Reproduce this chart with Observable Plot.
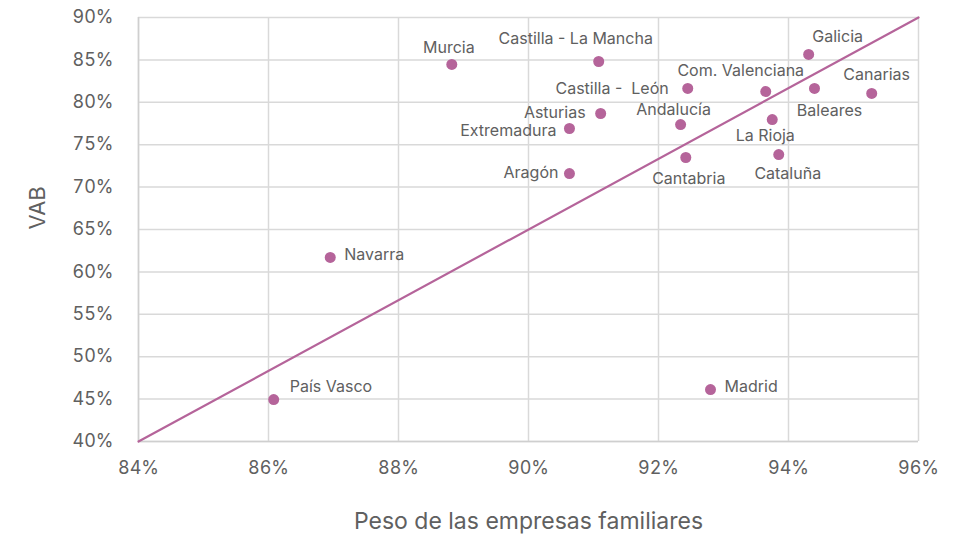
<!DOCTYPE html>
<html>
<head>
<meta charset="utf-8">
<script src="https://cdn.jsdelivr.net/npm/d3@7"></script>
<script src="https://cdn.jsdelivr.net/npm/@observablehq/plot@0.6"></script>
<style>
  html, body { margin: 0; padding: 0; background: #fff; }
  svg { font-family: Inter, "Open Sans", sans-serif; }
</style>
</head>
<body>
<div id="chart"></div>
<script>
// Data (percent values)
const regions = ["Murcia","Castilla - La Mancha","Galicia","Castilla -  León","Com. Valenciana","Canarias","Baleares","Asturias","La Rioja","Andalucía","Extremadura","Cataluña","Cantabria","Aragón","Navarra","País Vasco","Madrid"];
const pesoFamiliar = [88.82, 91.08, 94.31, 92.45, 93.65, 95.28, 94.40, 91.11, 93.75, 92.34, 90.63, 93.85, 92.42, 90.63, 86.95, 86.08, 92.80];
const vab = [84.46, 84.81, 85.64, 81.63, 81.27, 81.04, 81.63, 78.68, 77.97, 77.38, 76.91, 73.84, 73.49, 71.60, 61.70, 44.95, 46.13];
const refLineX = [84, 96];
const refLineY = [40, 90];
const xTicks = [84, 86, 88, 90, 92, 94, 96];
const yTicks = [40, 45, 50, 55, 60, 65, 70, 75, 80, 85, 90];

// Label placement (layout only)
const labelPlacement = {
  "Murcia": {dx: -3, dy: -17, anchor: "middle"},
  "Castilla - La Mancha": {dx: -23, dy: -23, anchor: "middle"},
  "Galicia": {dx: 29, dy: -18, anchor: "middle"},
  "Castilla -  León": {dx: -19, dy: 0, anchor: "end"},
  "Com. Valenciana": {dx: -25, dy: -21, anchor: "middle"},
  "Canarias": {dx: 5, dy: -19, anchor: "middle"},
  "Baleares": {dx: 15, dy: 22, anchor: "middle"},
  "Asturias": {dx: -15, dy: -1, anchor: "end"},
  "La Rioja": {dx: -7, dy: 16, anchor: "middle"},
  "Andalucía": {dx: -7, dy: -15, anchor: "middle"},
  "Extremadura": {dx: -13, dy: 2, anchor: "end"},
  "Cataluña": {dx: 9, dy: 19, anchor: "middle"},
  "Cantabria": {dx: 3, dy: 21, anchor: "middle"},
  "Aragón": {dx: -11, dy: -1, anchor: "end"},
  "Navarra": {dx: 14, dy: -3, anchor: "start"},
  "País Vasco": {dx: 16, dy: -13, anchor: "start"},
  "Madrid": {dx: 14, dy: -3, anchor: "start"}
};

const points = regions.map((r, i) => ({region: r, x: pesoFamiliar[i], y: vab[i]}));
const line = refLineX.map((x, i) => ({x, y: refLineY[i]}));

const color = "#b5649a";
const textColor = "#606060";

const labelMarks = points.map(p => Plot.text([p], {
  x: "x", y: "y", text: "region",
  dx: labelPlacement[p.region].dx, dy: labelPlacement[p.region].dy,
  textAnchor: labelPlacement[p.region].anchor, fontSize: 16, fill: textColor
}));

const chart = Plot.plot({
  width: 961,
  height: 538,
  marginLeft: 138,
  marginRight: 43,
  marginTop: 17,
  marginBottom: 97,
  style: {background: "#fff", fontFamily: "Inter, 'Open Sans', sans-serif"},
  x: {domain: [84, 96], ticks: xTicks},
  y: {domain: [40, 90], ticks: yTicks},
  marks: [
    Plot.gridX(xTicks, {stroke: "#d9d9d9", strokeOpacity: 1, strokeWidth: 1.5}),
    Plot.gridY(yTicks, {stroke: "#d9d9d9", strokeOpacity: 1, strokeWidth: 1.5}),
    Plot.ruleX([84], {stroke: "#cfcfcf", strokeWidth: 1.5}),
    Plot.ruleY([40], {stroke: "#cfcfcf", strokeWidth: 1.5}),
    Plot.axisX(xTicks, {tickSize: 0, tickPadding: 20, tickFormat: d => d + "%", fontSize: 18, fill: textColor, label: null}),
    Plot.axisY(yTicks, {tickSize: 0, tickPadding: 25, tickFormat: d => d + "%", fontSize: 18, fill: textColor, label: null}),
    Plot.line(line, {x: "x", y: "y", stroke: color, strokeWidth: 2.2}),
    Plot.dot(points, {x: "x", y: "y", r: 5.5, fill: color}),
    ...labelMarks,
    Plot.text(["Peso de las empresas familiares"], {frameAnchor: "bottom", dy: 80, fontSize: 23, fill: textColor, lineAnchor: "middle"}),
    Plot.text(["VAB"], {frameAnchor: "left", dx: -101, rotate: -90, fontSize: 22, fill: textColor, lineAnchor: "middle"})
  ]
});

document.getElementById("chart").appendChild(chart);
</script>
</body>
</html>
